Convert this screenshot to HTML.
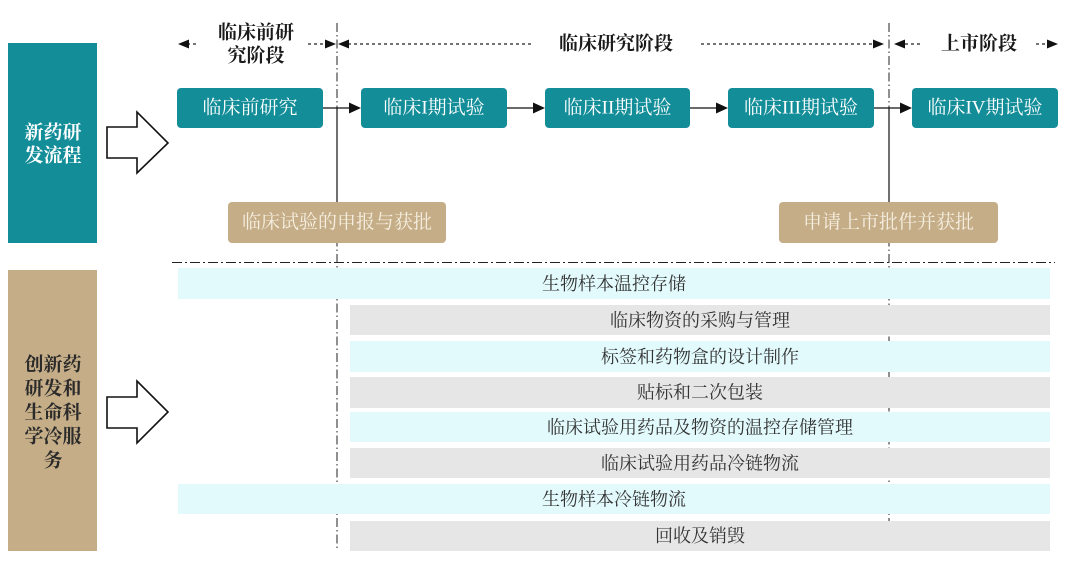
<!DOCTYPE html>
<html>
<head>
<meta charset="utf-8">
<style>
  html, body { margin: 0; padding: 0; background: #ffffff; }
  svg { display: block; }
  text { font-family: "Liberation Serif", "Noto Serif CJK SC", serif; }
</style>
</head>
<body>
<svg width="1072" height="568" viewBox="0 0 1072 568" xmlns="http://www.w3.org/2000/svg">
  <rect x="0" y="0" width="1072" height="568" fill="#ffffff"/>

  <!-- Left category boxes -->
  <rect x="8" y="43" width="89" height="200" fill="#138e99"/>
  <text x="53" y="133" font-size="19" font-weight="bold" fill="#ffffff" text-anchor="middle" dominant-baseline="central">新药研</text>
  <text x="53" y="156" font-size="19" font-weight="bold" fill="#ffffff" text-anchor="middle" dominant-baseline="central">发流程</text>

  <rect x="8" y="270" width="89" height="281" fill="#c5ad88"/>
  <text x="53" y="365" font-size="19" font-weight="bold" fill="#2a2a2a" text-anchor="middle" dominant-baseline="central">创新药</text>
  <text x="53" y="389" font-size="19" font-weight="bold" fill="#2a2a2a" text-anchor="middle" dominant-baseline="central">研发和</text>
  <text x="53" y="413" font-size="19" font-weight="bold" fill="#2a2a2a" text-anchor="middle" dominant-baseline="central">生命科</text>
  <text x="53" y="437" font-size="19" font-weight="bold" fill="#2a2a2a" text-anchor="middle" dominant-baseline="central">学冷服</text>
  <text x="53" y="461" font-size="19" font-weight="bold" fill="#2a2a2a" text-anchor="middle" dominant-baseline="central">务</text>

  <!-- Hollow arrows -->
  <polygon points="107,127 137,127 137,112 168,143 137,173 137,158 107,158" fill="#ffffff" stroke="#111" stroke-width="1.6" stroke-linejoin="miter"/>
  <polygon points="107,397 137,397 137,381 168,412 137,443 137,428 107,428" fill="#ffffff" stroke="#111" stroke-width="1.6" stroke-linejoin="miter"/>

  <!-- Vertical dash-dot separators -->
  <line x1="337" y1="23" x2="337" y2="551" stroke="#222" stroke-width="1" stroke-dasharray="9 3 1.5 3"/>
  <line x1="889" y1="23" x2="889" y2="551" stroke="#222" stroke-width="1" stroke-dasharray="9 3 1.5 3"/>
  <!-- solid segments -->
  <line x1="337" y1="108" x2="337" y2="203" stroke="#111" stroke-width="1.2"/>
  <line x1="889" y1="108" x2="889" y2="203" stroke="#111" stroke-width="1.2"/>

  <!-- Horizontal dash-dot divider -->
  <line x1="172" y1="262.5" x2="1055" y2="262.5" stroke="#222" stroke-width="1" stroke-dasharray="10 3 2 3"/>

  <!-- Top phase labels with dotted arrows -->
  <text x="256" y="33" font-size="19" font-weight="bold" fill="#1a1a1a" text-anchor="middle" dominant-baseline="central">临床前研</text>
  <text x="256" y="56" font-size="19" font-weight="bold" fill="#1a1a1a" text-anchor="middle" dominant-baseline="central">究阶段</text>
  <text x="616" y="44" font-size="19" font-weight="bold" fill="#1a1a1a" text-anchor="middle" dominant-baseline="central">临床研究阶段</text>
  <text x="979" y="44" font-size="19" font-weight="bold" fill="#1a1a1a" text-anchor="middle" dominant-baseline="central">上市阶段</text>

  <g stroke="#222" stroke-width="1.2" stroke-dasharray="3 3" fill="none">
    <line x1="187" y1="44" x2="199" y2="44"/>
    <line x1="308" y1="44" x2="327" y2="44"/>
    <line x1="348" y1="44" x2="532" y2="44"/>
    <line x1="701" y1="44" x2="874" y2="44"/>
    <line x1="905" y1="44" x2="920" y2="44"/>
    <line x1="1036" y1="44" x2="1049" y2="44"/>
  </g>
  <g fill="#111">
    <polygon points="178,44 189,39.5 189,48.5"/>
    <polygon points="336,44 325,39.5 325,48.5"/>
    <polygon points="338,44 349,39.5 349,48.5"/>
    <polygon points="884,44 873,39.5 873,48.5"/>
    <polygon points="894,44 905,39.5 905,48.5"/>
    <polygon points="1058,44 1047,39.5 1047,48.5"/>
  </g>

  <!-- Process boxes -->
  <g fill="#138e99">
    <rect x="177" y="88" width="146" height="40" rx="4"/>
    <rect x="361" y="88" width="146" height="40" rx="4"/>
    <rect x="545" y="88" width="145" height="40" rx="4"/>
    <rect x="728" y="88" width="146" height="40" rx="4"/>
    <rect x="912" y="88" width="146" height="40" rx="4"/>
  </g>
  <g font-size="19" fill="#ffffff" text-anchor="middle" dominant-baseline="central">
    <text x="250" y="108">临床前研究</text>
    <text x="434" y="108">临床I期试验</text>
    <text x="617.5" y="108">临床II期试验</text>
    <text x="801" y="108">临床III期试验</text>
    <text x="985" y="108">临床IV期试验</text>
  </g>

  <!-- Connector arrows -->
  <g stroke="#111" stroke-width="1.2">
    <line x1="323" y1="108" x2="351" y2="108"/>
    <line x1="507" y1="108" x2="535" y2="108"/>
    <line x1="690" y1="108" x2="718" y2="108"/>
    <line x1="874" y1="108" x2="902" y2="108"/>
  </g>
  <g fill="#111">
    <polygon points="361,108 349,102.5 349,113.5"/>
    <polygon points="545,108 533,102.5 533,113.5"/>
    <polygon points="728,108 716,102.5 716,113.5"/>
    <polygon points="912,108 900,102.5 900,113.5"/>
  </g>

  <!-- Approval boxes -->
  <rect x="228" y="202" width="218" height="41" rx="4" fill="#c5ad88"/>
  <text x="337" y="222.5" font-size="19" fill="#f6efe0" text-anchor="middle" dominant-baseline="central">临床试验的申报与获批</text>
  <rect x="779" y="202" width="219" height="41" rx="4" fill="#c5ad88"/>
  <text x="888.5" y="222.5" font-size="19" fill="#f6efe0" text-anchor="middle" dominant-baseline="central">申请上市批件并获批</text>

  <!-- Service rows -->
  <rect x="178" y="268" width="872" height="31" fill="#e2fafc"/>
  <rect x="350" y="305" width="700" height="30" fill="#e6e6e6"/>
  <rect x="350" y="341" width="700" height="31" fill="#e2fafc"/>
  <rect x="350" y="377" width="700" height="31" fill="#e6e6e6"/>
  <rect x="350" y="412" width="700" height="30" fill="#e2fafc"/>
  <rect x="350" y="448" width="700" height="30" fill="#e6e6e6"/>
  <rect x="178" y="484" width="872" height="30" fill="#e2fafc"/>
  <rect x="350" y="521" width="700" height="30" fill="#e6e6e6"/>

  <g font-size="18" fill="#333333" text-anchor="middle" dominant-baseline="central">
    <text x="614" y="284">生物样本温控存储</text>
    <text x="700" y="320.5">临床物资的采购与管理</text>
    <text x="700" y="357">标签和药物盒的设计制作</text>
    <text x="700" y="392.5">贴标和二次包装</text>
    <text x="700" y="427.5">临床试验用药品及物资的温控存储管理</text>
    <text x="700" y="463.5">临床试验用药品冷链物流</text>
    <text x="614" y="499.5">生物样本冷链物流</text>
    <text x="700" y="536">回收及销毁</text>
  </g>
</svg>
</body>
</html>
